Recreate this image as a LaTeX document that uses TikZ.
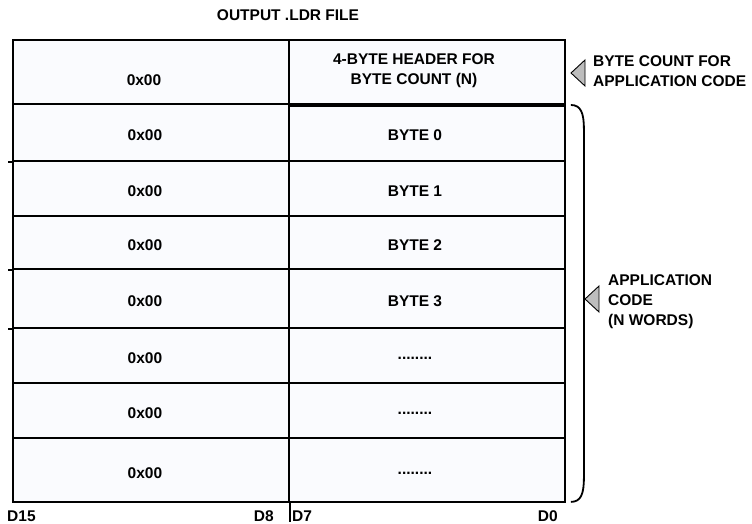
\documentclass[tikz,border=0pt]{standalone}
\usepackage{fontspec}
\setmainfont{Liberation Sans}
\usetikzlibrary{positioning,calc}
\definecolor{ink}{HTML}{000000}
\definecolor{cellbg}{HTML}{FAFBFE}
\definecolor{ptrgray}{HTML}{BDBDBD}
\tikzset{
  cell/.style={draw=ink, line width=1.9pt, fill=cellbg, inner sep=0pt,
               anchor=north west, minimum width=276pt},
  txt/.style={font=\fontsize{15.5}{20}\selectfont\bfseries, inner sep=0pt},
  side/.style={txt, anchor=west, align=left},
  hdr/.style={line width=3.8pt, draw=ink},
  ptr/.style={draw=ink, line width=0.9pt, fill=ptrgray},
  brace/.style={draw=ink, line width=1.8pt},
}
\begin{document}
\begin{tikzpicture}[x=1pt, y=1pt]
\useasboundingbox (0,0) rectangle (752,-524);
% rows of the word table (top/height/name)
\foreach \t/\h/\i in {39/64/0, 103/57/1, 160/55/2, 215/53/3, 268/59/4, 327/55/5, 382/55/6, 437/64/7} {
  \node[cell, minimum height=\h pt] (l\i) at (12,-\t) {};
  \node[cell, minimum height=\h pt] (r\i) at (288,-\t) {};
}
% small stubs on the left edge
\foreach \i in {1,3,4} \draw[line width=1.9pt] (l\i.south west) -- ++(-4,0);
\draw[hdr] (r0.south west) -- (r0.south east);
% upper byte column
\node[txt] (hi0) at (144,-80) {0x00};
\foreach \i in {1,...,7} \node[txt] (hi\i) at ([xshift=-6pt,yshift=-3pt]l\i.center) {0x00};
% lower byte column
\node[txt, align=center] (lo0) at (414,-71) {4-BYTE HEADER FOR\\BYTE COUNT (N)};
\foreach \i/\s in {1/BYTE 0, 2/BYTE 1, 3/BYTE 2, 4/BYTE 3} \node[txt] (lo\i) at ([xshift=-12pt,yshift=-3pt]r\i.center) {\s};
\foreach \i in {5,6,7} \node[txt] (lo\i) at ([xshift=-12pt,yshift=-3pt]r\i.center) {........};
% title and bit labels
\node[txt] (title) at (288,-15) {OUTPUT .LDR FILE};
\node[txt, anchor=west] (d15) at (7,-516) {D15};
\node[txt, anchor=east] (d8) at (274,-516) {D8};
\node[txt, anchor=west] (d7) at (292,-516) {D7};
\node[txt, anchor=east] (d0) at (558,-516) {D0};
\draw[line width=1.9pt] (l7.south east) -- ++(0,-19);
% pointers and side notes
\node[side] (cnt) at (593,-71) {BYTE COUNT FOR\\APPLICATION CODE};
\coordinate (tipA) at (571,-73);
\draw[ptr] (tipA) -- ++(14,13) -- ++(0,-26) -- cycle;
\node[side] (app) at (608,-302) {APPLICATION\\CODE\\(N WORDS)};
\coordinate (tipB) at (585,-299);
\draw[ptr] (tipB) -- ++(14,13) -- ++(0,-26) -- cycle;
% brace over the code words
\coordinate (btop) at ($(r1.north east)+(5,-2)$);
\coordinate (bbot) at ($(r7.south east)+(5,1)$);
\draw[brace] (btop) .. controls ($(btop)+(10,0)$) and ($(btop)+(13,-8)$) .. ($(btop)+(13,-24)$)
  -- ($(bbot)+(13,24)$) .. controls ($(bbot)+(13,8)$) and ($(bbot)+(10,0)$) .. (bbot);
\end{tikzpicture}
\end{document}
